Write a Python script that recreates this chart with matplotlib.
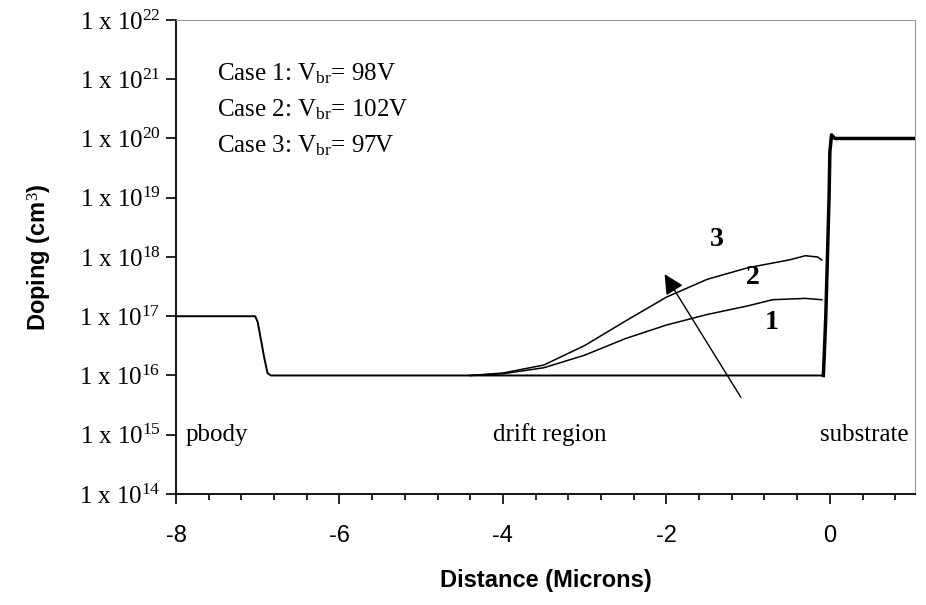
import numpy as np
import matplotlib.pyplot as plt
from matplotlib.ticker import MultipleLocator, FixedLocator, FuncFormatter

plt.rcParams['mathtext.fontset'] = 'custom'
plt.rcParams['mathtext.rm'] = 'Liberation Serif'
plt.rcParams['mathtext.it'] = 'Liberation Serif:italic'

# base profile: pbody -> drift region (microns, cm^-3)
x_base = [-8.0, -7.03, -7.0, -6.96, -6.92, -6.88, -6.84, -0.12, -0.08]
n_base = [1e17, 1e17, 8e16, 4e16, 2e16, 1.1e16, 1e16, 1e16, 1e16]

# substrate step
x_sub = [-0.08, -0.07, -0.05, -0.03, -0.01, 0.0, 0.02, 0.06, 1.1]
n_sub = [1e16, 2e16, 1e17, 1e18, 1e19, 6e19, 1.15e20, 1e20, 1e20]

# case 1 (lower curve) and case 2 (upper curve)
x_case = [-4.4, -4.0, -3.5, -3.0, -2.5, -2.0, -1.5, -1.0, -0.7, -0.3, -0.1]
n_case1 = [1.0e16, 1.07e16, 1.35e16, 2.2e16, 4.2e16, 7.1e16, 1.07e17, 1.5e17, 1.9e17, 2.0e17, 1.9e17]
x_case2 = [-4.4, -4.0, -3.5, -3.0, -2.5, -2.0, -1.5, -1.0, -0.5, -0.3, -0.15, -0.1]
n_case2 = [1.0e16, 1.1e16, 1.5e16, 3.2e16, 8.3e16, 2.1e17, 4.2e17, 6.6e17, 8.9e17, 1.05e18, 1.0e18, 8.9e17]

cases = ['Case 1: V$_{\\mathrm{br}}$= 98V',
         'Case 2: V$_{\\mathrm{br}}$= 102V',
         'Case 3: V$_{\\mathrm{br}}$= 97V']

fig = plt.figure(figsize=(9.26, 6.05), dpi=100)
ax = fig.add_axes([0.190, 0.1835, 0.798, 0.7835])

ax.plot(x_base, n_base, color='black', lw=1.4)
ax.plot(x_case, n_case1, color='black', lw=1.1)
ax.plot(x_case2, n_case2, color='black', lw=1.1)
ax.plot(x_sub, n_sub, color='black', lw=2.5)

ax.set_yscale('log')
ax.set_xlim(-8, 1.04)
ax.set_ylim(1e14, 1e22)

ax.xaxis.set_major_locator(MultipleLocator(2))
ax.xaxis.set_minor_locator(MultipleLocator(0.4))
ax.xaxis.set_major_formatter(FuncFormatter(lambda v, p: '%d' % v))
ax.yaxis.set_major_locator(FixedLocator([10.0**k for k in range(14, 23)]))
ax.yaxis.set_minor_locator(FixedLocator([]))
ax.yaxis.set_major_formatter(FuncFormatter(
    lambda v, p: r'$\mathrm{1\ x\ 10^{%d}}$' % round(np.log10(v))))

ax.tick_params(axis='x', which='major', direction='out', length=7, width=1.2,
               labelsize=17, pad=15)
ax.tick_params(axis='x', which='minor', direction='out', length=4, width=1.2)
ax.tick_params(axis='y', which='major', direction='out', length=7, width=1.2,
               labelsize=18, pad=4)
for lab in ax.get_xticklabels():
    lab.set_family('Liberation Sans')

ax.spines['left'].set_linewidth(1.3)
ax.spines['bottom'].set_linewidth(1.3)
ax.spines['top'].set_color('#999999')
ax.spines['right'].set_color('#999999')

ax.set_xlabel('Distance (Microns)', fontsize=17, fontweight='bold',
              family='Liberation Sans', labelpad=16)
ax.set_ylabel('Doping (cm$^3$)', fontsize=17, fontweight='bold',
              family='Liberation Sans', labelpad=18)

# case text
for i, t in enumerate(cases):
    ax.text(-7.5, 10**(21.1 - 0.615 * i), t, fontsize=18, family='Liberation Serif',
            va='center', ha='left')

# region labels
ax.text(-7.88, 10**15.0, 'pbody', fontsize=18, family='Liberation Serif', va='center')
ax.text(-4.12, 10**15.0, 'drift region', fontsize=18, family='Liberation Serif', va='center')
ax.text(-0.12, 10**15.0, 'substrate', fontsize=18, family='Liberation Serif', va='center')

# curve labels
ax.text(-1.38, 10**18.3, '3', fontsize=20, fontweight='bold', family='Liberation Serif',
        ha='center', va='center')
ax.text(-0.94, 10**17.65, '2', fontsize=20, fontweight='bold', family='Liberation Serif',
        ha='center', va='center')
ax.text(-0.71, 10**16.89, '1', fontsize=20, fontweight='bold', family='Liberation Serif',
        ha='center', va='center')

ax.annotate('', xy=(-2.04, 10**17.75), xytext=(-1.07, 10**15.59),
            arrowprops=dict(arrowstyle='-|>', color='black', lw=1.0, mutation_scale=30))

fig.savefig('out.png', dpi=100)
